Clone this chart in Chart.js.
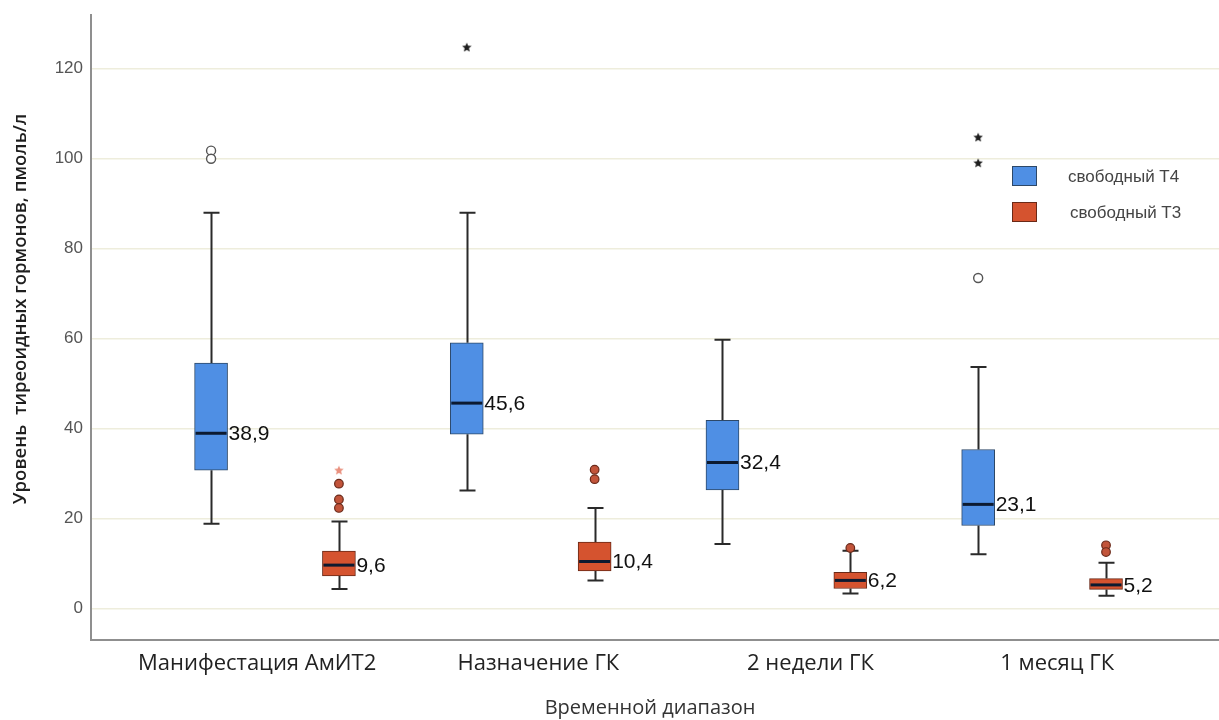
<!DOCTYPE html>
<html lang="ru">
<head>
<meta charset="utf-8">
<title>Уровень тиреоидных гормонов</title>
<script src="https://cdn.jsdelivr.net/npm/chart.js@4/dist/chart.umd.min.js"></script>
<style>
  html, body { margin: 0; padding: 0; background: #ffffff; }
  #wrap { width: 1219px; height: 720px; }
</style>
</head>
<body>
<div id="wrap"><canvas id="chart" width="1219" height="720"></canvas></div>
<script>
// Time points
const categories = ['Манифестация АмИТ2', 'Назначение ГК', '2 недели ГК', '1 месяц ГК'];
const seriesNames = ['свободный T4', 'свободный T3'];

// Free T4, pmol/l: five-number summaries per time point
const t4Min    = [18.8, 26.2, 14.3, 12.0];
const t4Q1     = [30.7, 38.7, 26.3, 18.4];
const t4Median = [38.9, 45.6, 32.4, 23.1];
const t4Q3     = [54.5, 59.0, 41.8, 35.3];
const t4Max    = [87.9, 87.9, 59.7, 53.6];

// Free T3, pmol/l
const t3Min    = [4.3, 6.2, 3.3, 2.8];
const t3Q1     = [7.2, 8.3, 4.4, 4.2];
const t3Median = [9.6, 10.4, 6.2, 5.2];
const t3Q3     = [12.7, 14.7, 8.0, 6.6];
const t3Max    = [19.3, 22.3, 12.8, 10.1];

// Outliers (circles) and extreme values (stars): [time point index, value]
const t4Outliers = [[0, 101.7], [0, 99.9], [3, 73.4]];
const t4Extremes = [[1, 124.7], [3, 104.7], [3, 99.0]];
const t3Outliers = [[0, 27.7], [0, 24.2], [0, 22.3], [1, 30.8], [1, 28.7], [2, 13.4], [3, 14.0], [3, 12.5]];
const t3Extremes = [[0, 30.7]];

// Value axis tick labels
const yTicks = [0, 20, 40, 60, 80, 100, 120];

// ---- styling and layout ----
const BLUE = '#4f8fe4', BLUE_EDGE = '#2d4868';
const RED = '#d5532f', RED_EDGE = '#6a2917';
const GROUP_SHIFT = 0.25;                 // offset of each box from its time point
const LABEL_NUDGE = [-0.07, 0.03, 0.094, 0.059]; // horizontal nudge of the time point captions

const series = [
  { name: seriesNames[0], min: t4Min, q1: t4Q1, med: t4Median, q3: t4Q3, max: t4Max, shift: -GROUP_SHIFT, fill: BLUE, edge: BLUE_EDGE },
  { name: seriesNames[1], min: t3Min, q1: t3Q1, med: t3Median, q3: t3Q3, max: t3Max, shift: GROUP_SHIFT, fill: RED, edge: RED_EDGE }
];

function starImage(size, fill) {
  const c = document.createElement('canvas');
  c.width = size; c.height = size;
  const g = c.getContext('2d');
  const cx = size / 2, cy = size / 2 + 0.4, ro = size / 2, ri = ro * 0.45;
  g.beginPath();
  for (let k = 0; k < 10; k++) {
    const r = k % 2 === 0 ? ro : ri;
    const a = -Math.PI / 2 + k * Math.PI / 5;
    const px = cx + r * Math.cos(a), py = cy + r * Math.sin(a);
    if (k === 0) g.moveTo(px, py); else g.lineTo(px, py);
  }
  g.closePath();
  g.fillStyle = fill;
  g.fill();
  return c;
}

const fmt = v => v.toFixed(1).replace('.', ',');

const boxParts = {
  id: 'boxParts',
  beforeDatasetsDraw(chart) {
    const { ctx, scales: { x, y } } = chart;
    ctx.save();
    ctx.strokeStyle = '#2a2a2a';
    ctx.lineWidth = 2;
    const cap = 8;
    series.forEach(s => {
      s.min.forEach((_, i) => {
        const px = Math.round(x.getPixelForValue(i + s.shift)) + 0.5;
        const yMin = y.getPixelForValue(s.min[i]);
        const yQ1 = y.getPixelForValue(s.q1[i]);
        const yQ3 = y.getPixelForValue(s.q3[i]);
        const yMax = y.getPixelForValue(s.max[i]);
        ctx.beginPath();
        ctx.moveTo(px, yMin); ctx.lineTo(px, yQ1);
        ctx.moveTo(px, yQ3); ctx.lineTo(px, yMax);
        ctx.moveTo(px - cap, yMin); ctx.lineTo(px + cap, yMin);
        ctx.moveTo(px - cap, yMax); ctx.lineTo(px + cap, yMax);
        ctx.stroke();
      });
    });
    ctx.restore();
  },
  afterDatasetsDraw(chart) {
    const { ctx, scales: { y } } = chart;
    ctx.save();
    series.forEach((s, si) => {
      const meta = chart.getDatasetMeta(si);
      meta.data.forEach((bar, i) => {
        const half = bar.width / 2;
        const left = bar.x - half, right = bar.x + half;
        const ym = y.getPixelForValue(s.med[i]);
        ctx.strokeStyle = '#0c1a30';
        ctx.lineWidth = 3;
        ctx.beginPath();
        ctx.moveTo(left + 1, ym); ctx.lineTo(right - 1, ym);
        ctx.stroke();
        ctx.fillStyle = '#111111';
        ctx.font = '21px "Liberation Sans", Arial, sans-serif';
        ctx.textAlign = 'left';
        ctx.textBaseline = 'middle';
        ctx.fillText(fmt(s.med[i]), right + 1, ym + 1);
      });
    });
    ctx.restore();
  },
  afterDraw(chart) {
    const { ctx } = chart;
    ctx.save();
    // legend
    const lx = 1012, ly = [166, 202];
    series.forEach((s, si) => {
      ctx.fillStyle = s.fill;
      ctx.fillRect(lx, ly[si], 25, 20);
      ctx.strokeStyle = s.edge;
      ctx.lineWidth = 1;
      ctx.strokeRect(lx + 0.5, ly[si] + 0.5, 24, 19);
      ctx.fillStyle = '#444444';
      ctx.font = '17px "Liberation Sans", Arial, sans-serif';
      ctx.textAlign = 'left';
      ctx.textBaseline = 'middle';
      ctx.fillText(s.name, 1068 + si * 2, ly[si] + 11);
    });
    // axis titles
    ctx.fillStyle = '#333333';
    ctx.font = '20px "Open Sans", sans-serif';
    ctx.textAlign = 'center';
    ctx.textBaseline = 'middle';
    ctx.fillText('Временной диапазон', 650, 708);
    ctx.translate(21, 309);
    ctx.rotate(-Math.PI / 2);
    ctx.fillStyle = '#1e1e1e';
    ctx.font = '600 18.5px "Open Sans", sans-serif';
    ctx.fillText('Уровень  тиреоидных гормонов, пмоль/л', 0, 0);
    ctx.restore();
  }
};

function outlierSet(list, shift, style) {
  return Object.assign({
    type: 'scatter',
    data: list.map(([i, v]) => ({ x: i + shift, y: v })),
    order: -1
  }, style);
}

const PX_PER_CAT = 255.7;

new Chart(document.getElementById('chart'), {
  type: 'bar',
  data: {
    datasets: [
      {
        label: seriesNames[0],
        data: t4Q1.map((q1, i) => ({ x: i - GROUP_SHIFT, y: [q1, t4Q3[i]] })),
        backgroundColor: BLUE, borderColor: BLUE_EDGE, borderWidth: 1, borderSkipped: false,
        barThickness: 33, grouped: false
      },
      {
        label: seriesNames[1],
        data: t3Q1.map((q1, i) => ({ x: i + GROUP_SHIFT, y: [q1, t3Q3[i]] })),
        backgroundColor: RED, borderColor: RED_EDGE, borderWidth: 1, borderSkipped: false,
        barThickness: 33, grouped: false
      },
      outlierSet(t4Outliers, -GROUP_SHIFT, { pointStyle: 'circle', pointRadius: 4.5, pointBackgroundColor: '#ffffff', pointBorderColor: '#555555', pointBorderWidth: 1.4 }),
      outlierSet(t4Extremes, -GROUP_SHIFT, { pointStyle: starImage(10, '#1e1e1e'), pointRadius: 5 }),
      outlierSet(t3Outliers, GROUP_SHIFT, { pointStyle: 'circle', pointRadius: 4.3, pointBackgroundColor: '#c2543a', pointBorderColor: '#6b2a1a', pointBorderWidth: 1.2 }),
      outlierSet(t3Extremes, GROUP_SHIFT, { pointStyle: starImage(10, '#e9907e'), pointRadius: 5 })
    ]
  },
  options: {
    responsive: false,
    devicePixelRatio: 1,
    animation: false,
    events: [],
    layout: { autoPadding: false, padding: { top: 15, right: 0, left: 0, bottom: 0 } },
    plugins: { legend: { display: false }, tooltip: { enabled: false }, title: { display: false } },
    scales: {
      x: {
        type: 'linear',
        offset: false,
        min: -(275 - 91) / PX_PER_CAT,
        max: (1219 - 275) / PX_PER_CAT,
        grid: { display: false, drawTicks: false },
        border: { display: true, color: '#8f8f8f', width: 2 },
        afterBuildTicks: scale => {
          scale.ticks = categories.map((c, i) => ({ value: i + LABEL_NUDGE[i] }));
        },
        afterFit: scale => {
          scale.height = 80;
          scale.paddingLeft = 0; scale.paddingRight = 0;
        },
        ticks: {
          autoSkip: false,
          maxRotation: 0,
          padding: 11,
          color: '#222222',
          font: { family: '"Open Sans", sans-serif', size: 22 },
          callback: (v, i) => categories[i]
        }
      },
      y: {
        type: 'linear',
        min: -7.04,
        max: 131.85,
        grid: { color: '#eeeddc', lineWidth: 1.5, drawTicks: false },
        border: { display: true, color: '#8f8f8f', width: 2 },
        afterBuildTicks: scale => { scale.ticks = yTicks.map(v => ({ value: v })); },
        afterFit: scale => {
          scale.width = 91;
          scale.paddingTop = 0; scale.paddingBottom = 0;
        },
        ticks: {
          padding: 8,
          color: '#555555',
          font: { family: '"Liberation Sans", Arial, sans-serif', size: 17 },
          callback: v => String(v)
        }
      }
    }
  },
  plugins: [boxParts]
});
</script>
</body>
</html>
